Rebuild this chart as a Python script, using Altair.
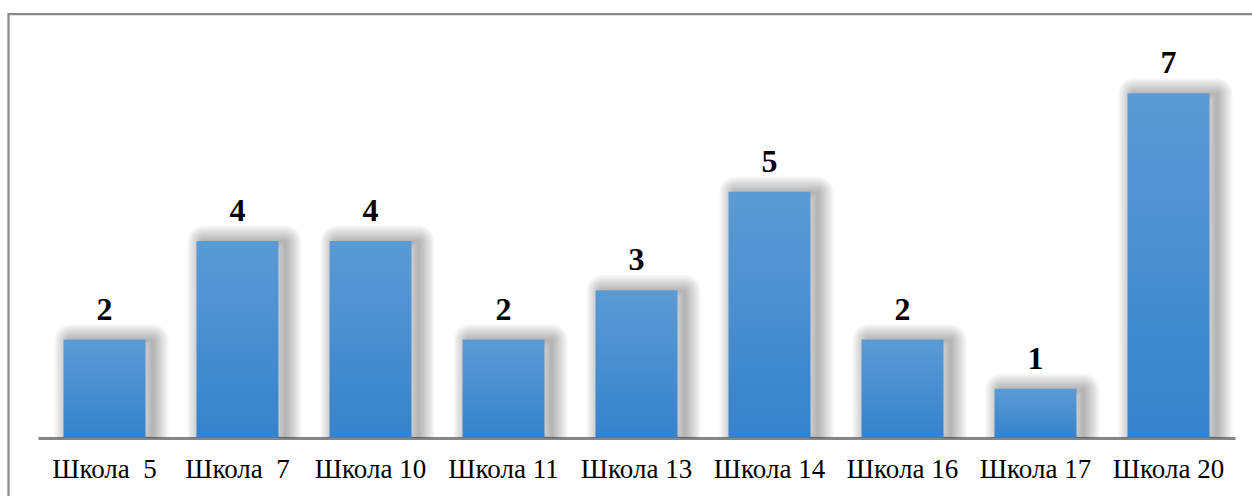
import altair as alt
import pandas as pd

schools = ["Школа\u00a0\u00a05", "Школа\u00a0\u00a07", "Школа 10", "Школа 11", "Школа 13",
           "Школа 14", "Школа 16", "Школа 17", "Школа 20"]
counts = [2, 4, 4, 2, 3, 5, 2, 1, 7]

df = pd.DataFrame({"school": schools, "count": counts})

W, H = 1197, 394
PAD_L, PAD_T = 38, 44
SERIF = "Liberation Serif"

x_enc = alt.X("school:N", sort=schools, title=None,
              scale=alt.Scale(paddingInner=0.38, paddingOuter=0.19),
              axis=alt.Axis(labelAngle=0, labelFont=SERIF, labelFontSize=27,
                            labelColor="#000000", labelPadding=18, ticks=False,
                            domainColor="#868686", domainWidth=3))
y_enc = alt.Y("count:Q", scale=alt.Scale(domain=[0, 8]), axis=None)

base = alt.Chart(df)

shadows = []
for k in [4, 8, 12, 16, 20, 24, 28, 32]:
    shadows.append(
        base.mark_bar(size=82, xOffset=7, yOffset=1, fill="#000000", fillOpacity=0,
                      stroke="#000000", strokeOpacity=0.04, strokeWidth=k,
                      strokeJoin="round", clip=True)
        .encode(x=x_enc, y=y_enc)
    )

bars = base.mark_bar(size=82, color=alt.Gradient(
    gradient="linear",
    stops=[alt.GradientStop(color="#5b9bd5", offset=0),
           alt.GradientStop(color="#3682cb", offset=1)],
    x1=0, x2=0, y1=0, y2=1)).encode(x=x_enc, y=y_enc)

labels = base.mark_text(font=SERIF, fontSize=32, fontWeight="bold",
                        color="#000000", baseline="alphabetic", dy=-20).encode(
    x=alt.X("school:N", sort=schools), y="count:Q", text="count:Q")

border = alt.Chart(pd.DataFrame({"a": [0]})).mark_rect(
    fill="transparent", stroke="#8a8a8a", strokeWidth=2.2).encode(
    x=alt.value(8.5 - PAD_L), y=alt.value(14.2 - PAD_T),
    x2=alt.value(1300), y2=alt.value(600))

chart = alt.layer(border, *shadows, bars, labels).properties(
    width=W, height=H,
    autosize=alt.AutoSizeParams(type="none"),
    padding={"left": PAD_L, "top": PAD_T, "right": 1252 - PAD_L - W, "bottom": 496 - PAD_T - H},
    background="#ffffff",
).configure_view(stroke="transparent", strokeWidth=0)

chart.save("out.html", embed_options={"renderer": "svg", "actions": False})
